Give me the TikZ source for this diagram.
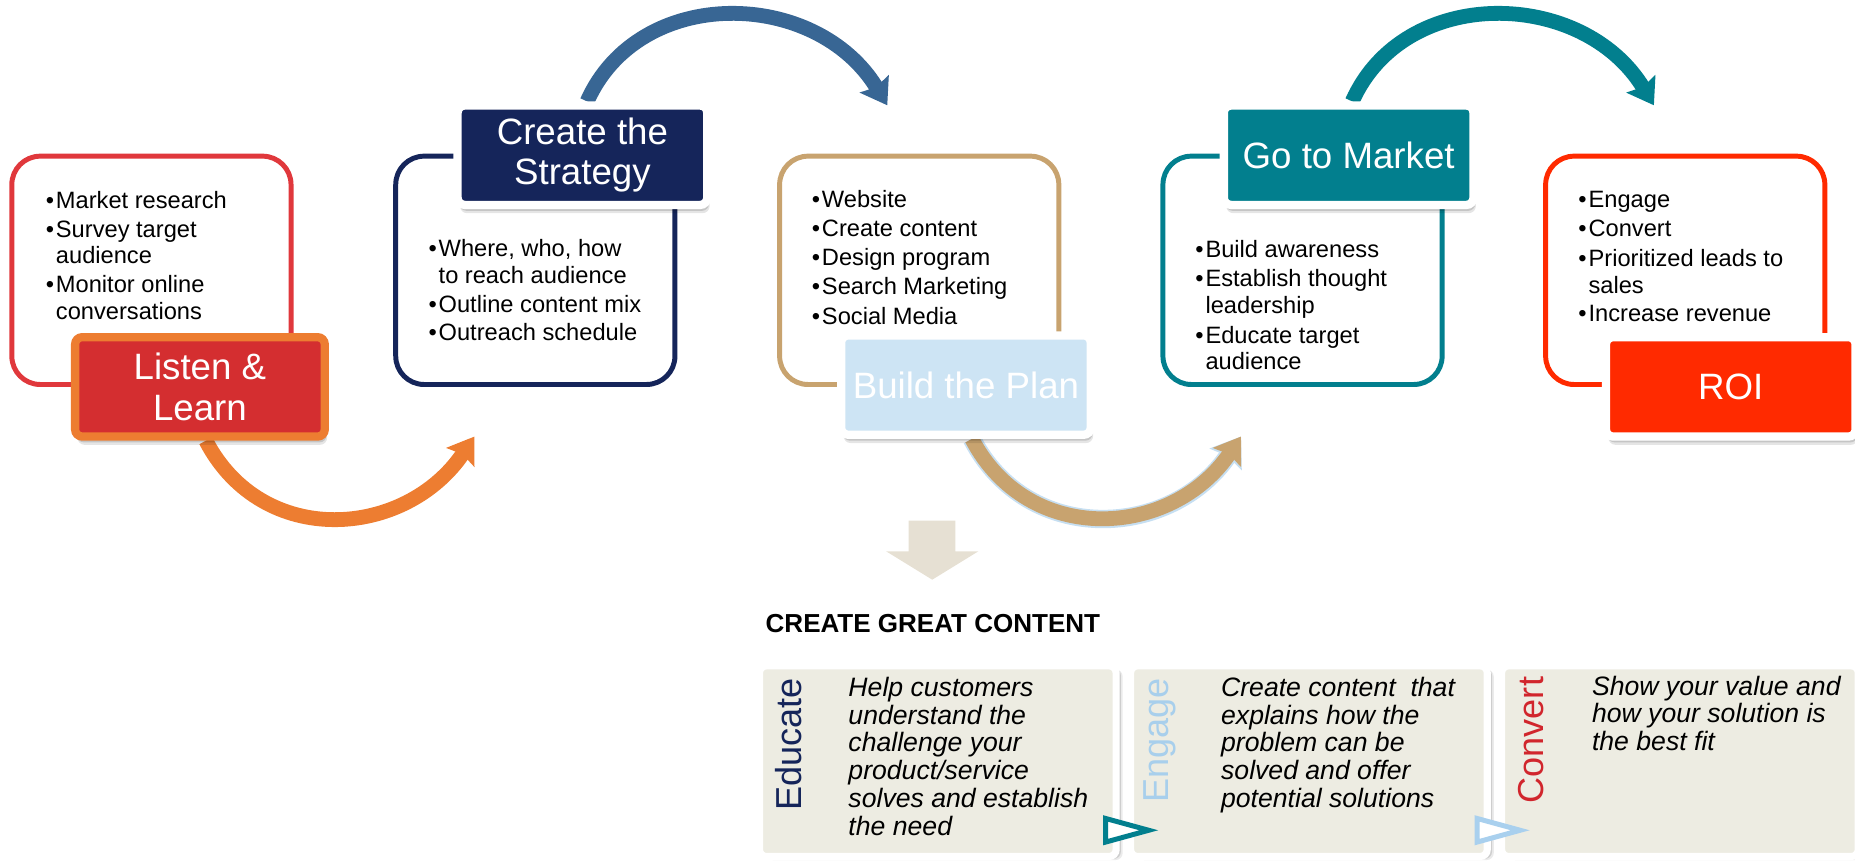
\documentclass[tikz,border=0pt]{standalone}
\usepackage{fontspec}
\setmainfont{Liberation Sans}
\usetikzlibrary{arrows.meta,shadows}
\definecolor{cRed}{HTML}{E0383C}
\definecolor{cLLfill}{HTML}{D42E30}
\definecolor{cOrange}{HTML}{ED7D31}
\definecolor{cNavy}{HTML}{15255A}
\definecolor{cTan}{HTML}{C8A36F}
\definecolor{cLight}{HTML}{CDE4F4}
\definecolor{cTeal}{HTML}{027F8E}
\definecolor{cROI}{HTML}{FF2A00}
\definecolor{cBlueArr}{HTML}{386694}
\definecolor{cBeige}{HTML}{E6E0D3}
\definecolor{cPanel}{HTML}{EDECE2}
\definecolor{cEngage}{HTML}{A8CFEC}
\definecolor{cConvert}{HTML}{D1262D}
\definecolor{cTriBlue}{HTML}{A9D0EE}
\definecolor{cGlow}{HTML}{C6DFF2}
\newcommand\bu{•\kern1.6pt}
\newcommand\bi{\phantom{\bu}}
\tikzset{
 mainbox/.style={draw, line width=4.2pt, rounded corners=24pt, minimum width=236pt, minimum height=193pt, inner sep=0pt},
 softshadow/.style={drop shadow={shadow xshift=1.5pt, shadow yshift=-5pt, opacity=0.14, fill=black},
                    drop shadow={shadow xshift=2pt, shadow yshift=-7pt, opacity=0.10, fill=black}},
 lab/.style={line width=7pt, rounded corners=6pt, minimum width=211pt, minimum height=84pt, inner sep=0pt, text=white, align=center, font=\fontsize{31}{34}\selectfont},
 bul/.style={anchor=base west, inner sep=0pt, font=\fontsize{20}{22.5}\selectfont},
 desc/.style={anchor=base west, inner sep=0pt, font=\fontsize{22.5}{23.6}\selectfont\itshape},
 vword/.style={rotate=90, anchor=east, inner sep=0pt, font=\fontsize{30.5}{32}\selectfont},
 panel/.style={fill=cPanel, draw=white, line width=6pt, rounded corners=6pt, minimum width=301.5pt, minimum height=161.2pt, inner sep=0pt,
               drop shadow={shadow xshift=4pt, shadow yshift=-2pt, opacity=0.12, fill=black},
               drop shadow={shadow xshift=5.5pt, shadow yshift=-3pt, opacity=0.08, fill=black}},
 carrow/.style={line width=12.5pt, -{Stealth[length=21pt,width=28pt,inset=3pt]}},
 tri/.style={line width=4.2pt, fill=white, line join=miter},
}
\begin{document}
\begin{tikzpicture}[x=1pt,y=-1pt]
\useasboundingbox (0,0) rectangle (1568,729);
\clip (0,0) rectangle (1568,729);

% main boxes
\node[mainbox, draw=cRed]   (b1) at (128,228.5) {};
\node[mainbox, draw=cNavy]  (b2) at (452.5,228.5) {};
\node[mainbox, draw=cTan]   (b3) at (777,228.5) {};
\node[mainbox, draw=cTeal]  (b4) at (1101,228.5) {};
\node[mainbox, draw=cROI]   (b5) at (1424.5,228.5) {};

% bullets
\node[bul] (t1) at (38.5,176) {\begin{tabular}[t]{@{}l@{}}\bu Market research\\[2pt] \bu Survey target\\ \bi audience\\[2pt] \bu Monitor online\\ \bi conversations\end{tabular}};
\node[bul] (t2) at (362,217) {\begin{tabular}[t]{@{}l@{}}\bu Where, who, how\\ \bi to reach audience\\[2pt] \bu Outline content mix\\[1pt] \bu Outreach schedule\end{tabular}};
\node[bul] (t3) at (686,175) {\begin{tabular}[t]{@{}l@{}}\bu Website\\[2.25pt] \bu Create content\\[2.25pt] \bu Design program\\[2.25pt] \bu Search Marketing\\[2.25pt] \bu Social Media\end{tabular}};
\node[bul] (t4) at (1010.2,218) {\begin{tabular}[t]{@{}l@{}}\bu Build awareness\\[2pt] \bu Establish thought\\ \bi leadership\\[2.5pt] \bu Educate target\\ \bi audience\end{tabular}};
\node[bul] (t5) at (1334,175) {\begin{tabular}[t]{@{}l@{}}\bu Engage\\[2.5pt] \bu Convert\\[3pt] \bu Prioritized leads to\\ \bi sales\\[1.5pt] \bu Increase revenue\end{tabular}};

% anchors for the curved arrows
\coordinate (oe) at (401,369);
\coordinate (be) at (750,89);
\coordinate (tne) at (1049,369);
\coordinate (te) at (1398,89);
\node[lab, fill=none, draw=none] (llref) at (169,327) {};
\node[lab, fill=none, draw=none] (csref) at (492.3,131.2) {};
\node[lab, fill=none, draw=none] (bpref) at (816.5,325.5) {};
\node[lab, fill=none, draw=none] (gmref) at (1140,131.2) {};
\draw[carrow, cOrange] ([xshift=5pt]llref.south) .. controls +(48,92) and +(-58,86) .. (oe);
\draw[carrow, cBlueArr] ([xshift=4pt]csref.north) .. controls +(44,-99) and +(-60,-99) .. (be);
\draw[carrow, cTan, preaction={draw=cGlow, line width=15.5pt, -{Stealth[length=23pt,width=32pt,inset=3pt]}}] ([xshift=5pt]bpref.south) .. controls +(48,92) and +(-58,86) .. (tne);
\draw[carrow, cTeal] ([xshift=3pt]gmref.north) .. controls +(44,-99) and +(-60,-99) .. (te);

% labels
\node[lab, softshadow, fill=cLLfill, draw=cOrange] (ll) at (169,327) {Listen \&\\Learn};
\node[lab, softshadow, fill=cNavy, draw=white] (cs) at (492.3,131.2) {Create the\\Strategy};
\node[lab, softshadow, fill=cLight, draw=white] (bp) at (816.5,325.5) {Build the Plan};
\node[lab, softshadow, fill=cTeal, draw=white] (gm) at (1140,131.2) {Go to Market};
\node[lab, softshadow, fill=cROI, draw=white] (roi) at (1463,327) {ROI};

% down arrow
\fill[cBeige] (768,440) -- (807.5,440) -- (807.5,466) -- (827,466) -- (788,490) -- (749,466) -- (768,466) -- cycle;

\node[anchor=base west, inner sep=0pt, font=\bfseries\fontsize{22}{26}\selectfont] (cgc) at (647,534.5) {CREATE GREAT CONTENT};

% panels
\node[panel] (p1) at (792.7,643.4) {};
\node[panel] (p2) at (1106.4,643.4) {};
\node[panel] (p3) at (1420,643.4) {};

\node[vword, text=cNavy] (ved) at (667,573) {Educate};
\node[vword, text=cEngage] (ven) at (980,573) {Engage};
\node[vword, text=cConvert] (vco) at (1294,572) {Convert};

\node[desc] (d1) at (717,588.4) {\begin{tabular}[t]{@{}l@{}}Help customers\\understand the\\challenge your\\product/service\\solves and establish\\the need\end{tabular}};
\node[desc] (d2) at (1032,588.4) {\begin{tabular}[t]{@{}l@{}}Create content\ \ that\\explains how the\\problem can be\\solved and offer\\potential solutions\end{tabular}};
\node[desc] (d3) at (1345.5,587.5) {\begin{tabular}[t]{@{}l@{}}Show your value and\\how your solution is\\the best fit\end{tabular}};

\draw[tri, draw=cTeal] (934.5,691.8) -- (934.5,711.8) -- (971,701.8) -- cycle;
\draw[tri, draw=cTriBlue] (1248.5,691.8) -- (1248.5,711.8) -- (1285,701.8) -- cycle;
\end{tikzpicture}
\end{document}
